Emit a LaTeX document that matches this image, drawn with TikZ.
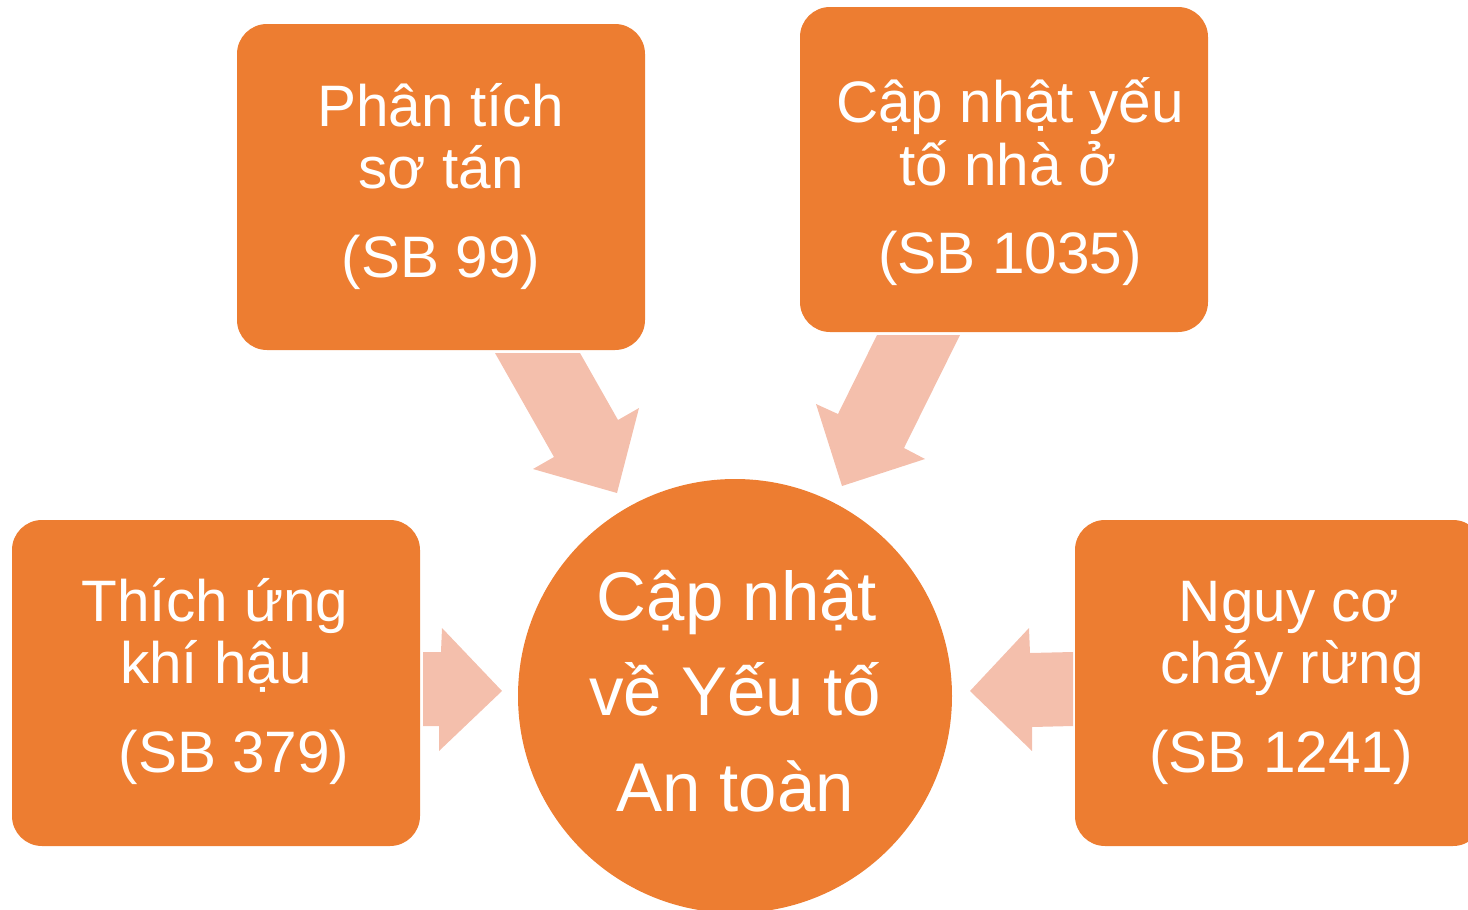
\documentclass[tikz,border=0pt]{standalone}
\usepackage{fontspec}
\setmainfont{Liberation Sans}
\definecolor{boxorange}{HTML}{ED7D31}
\definecolor{arrowpink}{HTML}{F4BFAC}
\begin{document}
\begin{tikzpicture}[x=1pt,y=-1pt,
  box/.style={fill=boxorange,rounded corners=30pt},
  blockarrow/.style={fill=arrowpink,draw=none},
  boxtext/.style={text=white,anchor=base,inner sep=0pt,font=\fontsize{58.5}{62}\selectfont},
  circtext/.style={text=white,anchor=base,inner sep=0pt,font=\fontsize{69}{72}\selectfont}]
\useasboundingbox (0,0) rectangle (1468,910);
\clip (0,0) rectangle (1468,910);
% boxes
\path[box] (237,24) rectangle (645,350);
\path[box] (800,7) rectangle (1208,332);
\path[box] (12,520) rectangle (420,846);
\path[box] (1075,520) rectangle (1483,846);
% centre circle
\node[circle,fill=boxorange,minimum size=434pt,inner sep=0pt] (hub) at (735,696) {};
% block arrows
\fill[blockarrow] (495,353) -- (580,353) -- (618,420) -- (639,408) -- (617,493) -- (533,469) -- (554,457) -- cycle;
\fill[blockarrow] (877,335) -- (960,335) -- (904,448) -- (925,459) -- (842,486) -- (816,404) -- (838,414) -- cycle;
\fill[blockarrow] (423,652) -- (441,652) -- (442,628) -- (502,691) -- (439,751) -- (439,726) -- (423,726) -- cycle;
\fill[blockarrow] (1073,652) -- (1030,653) -- (1029,628) -- (970,691) -- (1032,751) -- (1032,727) -- (1073,726) -- cycle;
% texts
\node[boxtext] (a1) at (441,126) {Phân tích};
\node[boxtext] (a2) at (441,188) {sơ tán};
\node[boxtext] (a3) at (441,277) {(SB 99)};
\node[boxtext] (b1) at (1010,122) {Cập nhật yếu};
\node[boxtext] (b2) at (1008,185) {tố nhà ở};
\node[boxtext] (b3) at (1010,273) {(SB 1035)};
\node[boxtext] (c1) at (215,621) {Thích ứng};
\node[boxtext] (c2) at (216,683) {khí hậu};
\node[boxtext] (c3) at (234,772) {(SB 379)};
\node[boxtext] (d1) at (1289,621) {Nguy cơ};
\node[boxtext] (d2) at (1292,683) {cháy rừng};
\node[boxtext] (d3) at (1281,772) {(SB 1241)};
\node[circtext] (h1) at (737,620) {Cập nhật};
\node[circtext] (h2) at (735,715) {về Yếu tố};
\node[circtext] (h3) at (735,811) {An toàn};
\end{tikzpicture}
\end{document}
